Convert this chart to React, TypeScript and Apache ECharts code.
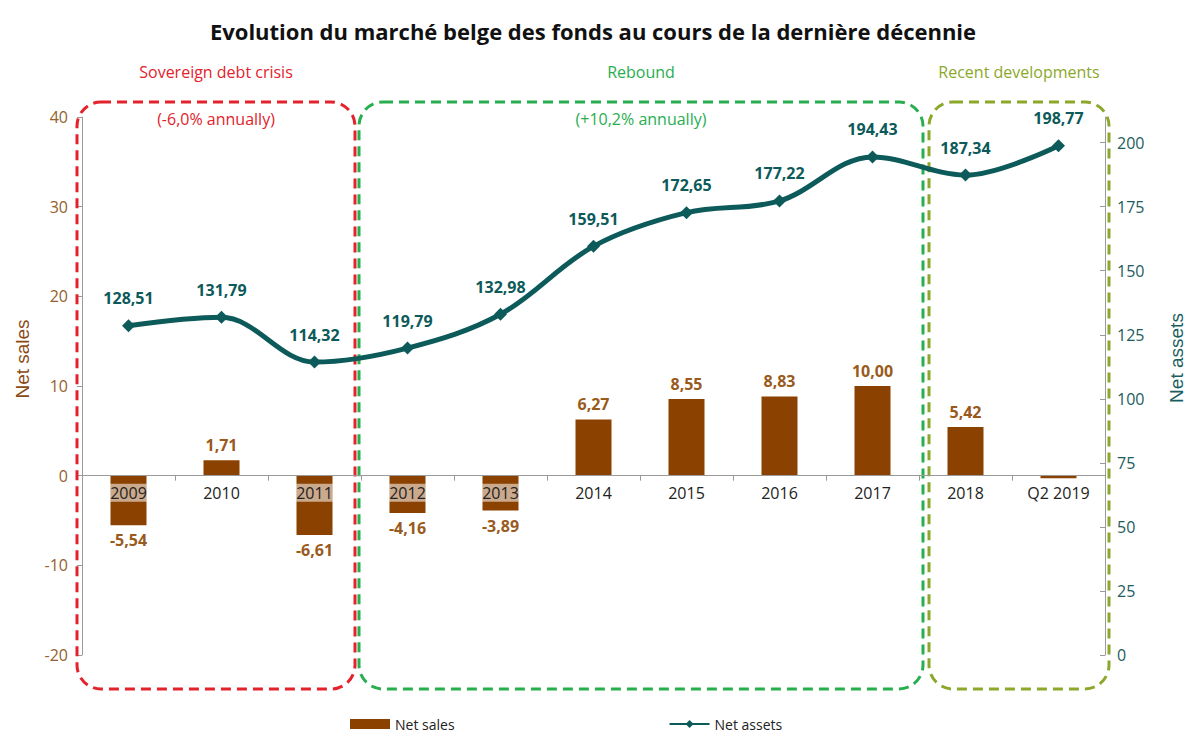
import React, { useEffect, useRef } from "react";
import * as echarts from "echarts";

const categories = ["2009", "2010", "2011", "2012", "2013", "2014", "2015", "2016", "2017", "2018", "Q2 2019"];
const netSales = [-5.54, 1.71, -6.61, -4.16, -3.89, 6.27, 8.55, 8.83, 10.0, 5.42, -0.3];
const netSalesLabelShown = [true, true, true, true, true, true, true, true, true, true, false];
const netAssets = [128.51, 131.79, 114.32, 119.79, 132.98, 159.51, 172.65, 177.22, 194.43, 187.34, 198.77];
const leftTicks = { min: -20, max: 40, interval: 10 };
const rightTicks = { min: 0, max: 210, interval: 25 };

const title = "Evolution du marché belge des fonds au cours de la dernière décennie";
const periods = [
  { name: "Sovereign debt crisis", sub: "(-6,0% annually)", color: "#e3222b", x0: 77, x1: 355 },
  { name: "Rebound", sub: "(+10,2% annually)", color: "#27ae4f", x0: 359, x1: 923 },
  { name: "Recent developments", sub: "", color: "#8ba82b", x0: 929, x1: 1109 },
];

const fmt = (v: number) => v.toFixed(2).replace(".", ",");

const BAR = "#8b4200";
const BARLBL = "#995a1c";
const LINE = "#0d5a5a";
const FONT = "'Open Sans', Lato, sans-serif";
const ARIAL = "'Liberation Sans', Arial, sans-serif";
const GRID = { left: 82, right: 81, top: 117, bottom: 78 };
const H = 733;

export default function App() {
  const ref = useRef<HTMLDivElement>(null);
  useEffect(() => {
    const chart = echarts.init(ref.current!, undefined, { renderer: "svg" });
    const graphics: any[] = [];
    periods.forEach((p) => {
      graphics.push({
        type: "rect",
        z: 1,
        shape: { x: p.x0, y: 102, width: p.x1 - p.x0, height: 587, r: 24 },
        style: { fill: "none", stroke: p.color, lineWidth: 3, lineDash: [10, 6] },
      });
      graphics.push({
        type: "text",
        x: (p.x0 + p.x1) / 2,
        y: 72,
        style: { text: p.name, fill: p.color, font: `16px ${FONT}`, align: "center", verticalAlign: "middle" },
      });
      if (p.sub) {
        graphics.push({
          type: "text",
          x: (p.x0 + p.x1) / 2,
          y: 119,
          style: { text: p.sub, fill: p.color, font: `16px ${FONT}`, align: "center", verticalAlign: "middle" },
        });
      }
    });
    graphics.push({
      type: "text",
      x: 22,
      y: 359,
      rotation: Math.PI / 2,
      style: { text: "Net sales", fill: "#8b4a14", font: `19px ${ARIAL}`, align: "center", verticalAlign: "middle" },
    });
    graphics.push({
      type: "text",
      x: 1176,
      y: 358,
      rotation: Math.PI / 2,
      style: { text: "Net assets", fill: "#1b5e60", font: `19px ${ARIAL}`, align: "center", verticalAlign: "middle" },
    });
    chart.setOption({
      animation: false,
      backgroundColor: "#ffffff",
      title: {
        text: title,
        left: "center",
        top: 15,
        textStyle: { fontFamily: FONT, fontWeight: "bold", fontSize: 22, color: "#111" },
      },
      legend: {
        data: [
          { name: "Net sales", icon: "rect" },
          { name: "Net assets" },
        ],
        left: 345,
        top: 712,
        itemGap: 214,
        itemWidth: 40,
        itemHeight: 10,
        textStyle: { fontFamily: FONT, fontSize: 14, color: "#222" },
      },
      grid: GRID,
      xAxis: {
        type: "category",
        data: categories,
        offset: 0,
        axisLine: { onZero: false, lineStyle: { color: "#9a9a9a", width: 1 } },
        axisTick: { show: true, length: 5, lineStyle: { color: "#9a9a9a" } },
        axisLabel: {
          color: "#222",
          fontFamily: FONT,
          fontSize: 16,
          margin: 8,
          backgroundColor: "rgba(255,255,255,0.55)",
          padding: [1, 0, 1, 0],
        },
        z: 5,
      },
      yAxis: [
        {
          type: "value",
          min: leftTicks.min,
          max: leftTicks.max,
          interval: leftTicks.interval,
          axisLine: { show: true, lineStyle: { color: "#9a9a9a" } },
          axisTick: { show: true, length: 5, lineStyle: { color: "#9a9a9a" } },
          axisLabel: { color: "#93602e", fontFamily: FONT, fontSize: 16, margin: 14 },
          splitLine: { show: false },
        },
        {
          type: "value",
          min: rightTicks.min,
          max: rightTicks.max,
          interval: rightTicks.interval,
          position: "right",
          axisLine: { show: true, lineStyle: { color: "#9a9a9a" } },
          axisTick: { show: true, inside: true, length: 5, lineStyle: { color: "#9a9a9a" } },
          axisLabel: { color: "#1d5c5e", fontFamily: FONT, fontSize: 16, margin: 12, showMaxLabel: false },
          splitLine: { show: false },
        },
      ],
      series: [
        {
          name: "Net sales",
          type: "bar",
          yAxisIndex: 0,
          barWidth: 36,
          itemStyle: { color: BAR },
          z: 3,
          data: netSales.map((v, i) => ({
            value: v,
            label: {
              show: netSalesLabelShown[i],
              position: v >= 0 ? "top" : "bottom",
              distance: 7,
              formatter: () => fmt(v),
              color: BARLBL,
              fontFamily: FONT,
              fontWeight: "bold",
              fontSize: 16,
            },
          })),
        },
        {
          name: "Net assets",
          type: "line",
          yAxisIndex: 1,
          smooth: 0.35,
          symbol: "diamond",
          symbolSize: 13,
          lineStyle: { color: LINE, width: 5 },
          itemStyle: { color: LINE },
          z: 6,
          label: {
            show: true,
            position: "top",
            distance: 13,
            formatter: (p: any) => fmt(p.value),
            color: LINE,
            fontFamily: FONT,
            fontWeight: "bold",
            fontSize: 16,
          },
          data: netAssets,
        },
      ],
      graphic: graphics,
    });
    // place the category axis on the zero of the left value axis
    const zeroY = chart.convertToPixel({ yAxisIndex: 0 }, 0) as number;
    const bottomY = H - GRID.bottom;
    if (typeof zeroY === "number" && isFinite(zeroY)) {
      chart.setOption({ xAxis: { offset: zeroY - bottomY } });
    }
    return () => chart.dispose();
  }, []);
  return (
    <div
      ref={ref}
      style={{ position: "fixed", left: 0, top: 0, width: 1186, height: H }}
    />
  );
}
